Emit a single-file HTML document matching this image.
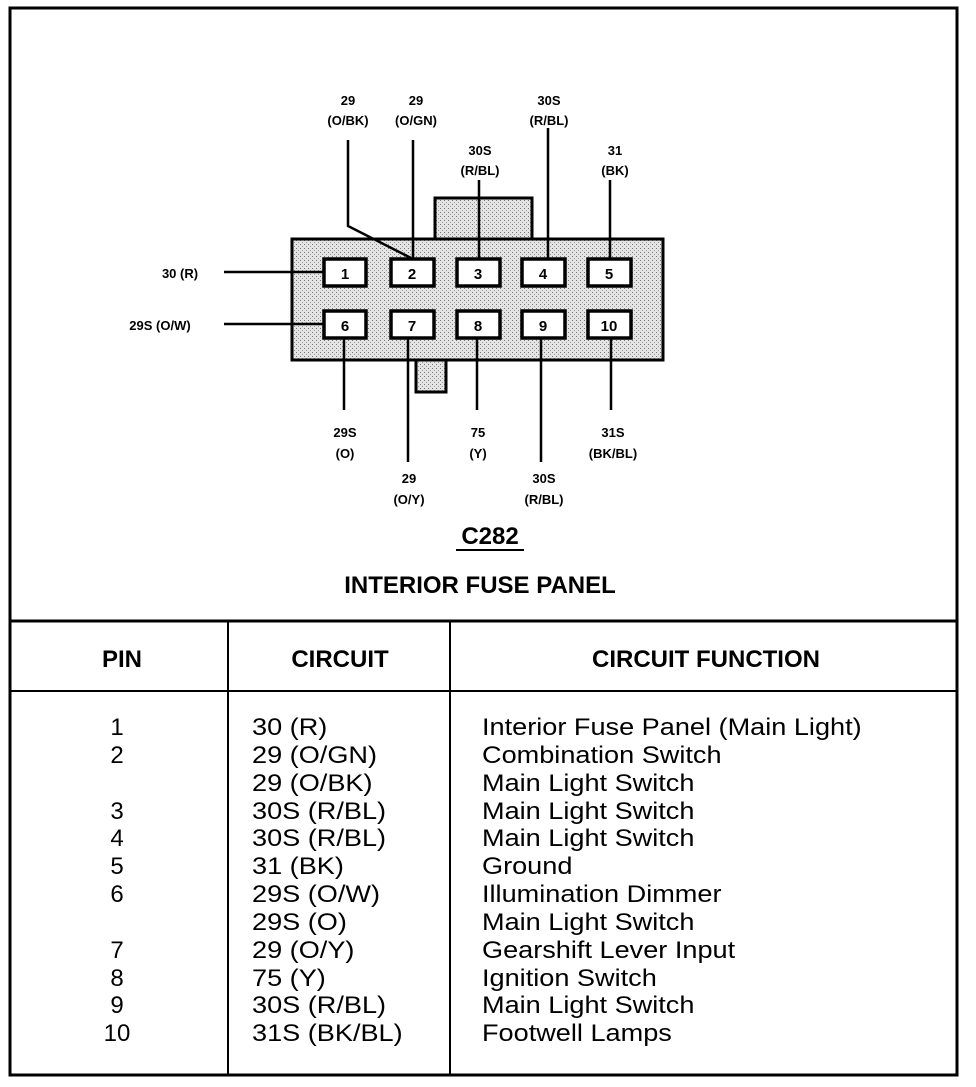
<!DOCTYPE html>
<html><head><style>
body{margin:0;background:#fff;}
svg text{font-family:"Liberation Sans",sans-serif;}
</style></head><body>
<svg width="976" height="1082" viewBox="0 0 976 1082" xmlns="http://www.w3.org/2000/svg">
<defs>
<pattern id="st" width="4" height="4" patternUnits="userSpaceOnUse">
<rect width="4" height="4" fill="#e4e4e4"/><rect x="0" y="0" width="1" height="1" fill="#777"/><rect x="2" y="2" width="1" height="1" fill="#999"/>
</pattern>
</defs>
<rect x="10" y="8" width="947" height="1067" fill="none" stroke="#000" stroke-width="3"/>
<line x1="10" y1="621" x2="957" y2="621" stroke="#000" stroke-width="3"/>
<line x1="10" y1="691" x2="957" y2="691" stroke="#000" stroke-width="2"/>
<line x1="228" y1="621" x2="228" y2="1075" stroke="#000" stroke-width="2"/>
<line x1="450" y1="621" x2="450" y2="1075" stroke="#000" stroke-width="2"/>

<rect x="435" y="198" width="97" height="41" fill="url(#st)" stroke="#000" stroke-width="3"/>
<rect x="416" y="358" width="30" height="34" fill="url(#st)" stroke="#000" stroke-width="3"/>
<rect x="292" y="239" width="371" height="121" fill="url(#st)" stroke="#000" stroke-width="3"/>

<g stroke="#000" stroke-width="2.5" fill="none">
<polyline points="348,140 348,226 411,258"/>
<line x1="413" y1="140" x2="413" y2="258"/>
<line x1="479" y1="180" x2="479" y2="258"/>
<line x1="548" y1="128" x2="548" y2="258"/>
<line x1="610" y1="180" x2="610" y2="258"/>
<line x1="224" y1="272" x2="323" y2="272"/>
<line x1="224" y1="324" x2="323" y2="324"/>
<line x1="344" y1="338" x2="344" y2="410"/>
<line x1="408" y1="338" x2="408" y2="462"/>
<line x1="477" y1="338" x2="477" y2="410"/>
<line x1="541" y1="338" x2="541" y2="462"/>
<line x1="611" y1="338" x2="611" y2="410"/>
</g>
<g stroke="#000" stroke-width="3.5" fill="#fff">
<rect x="324" y="259" width="42" height="27"/>
<rect x="391" y="259" width="43" height="27"/>
<rect x="457" y="259" width="43" height="27"/>
<rect x="522" y="259" width="43" height="27"/>
<rect x="588" y="259" width="43" height="27"/>
<rect x="324" y="311" width="42" height="27"/>
<rect x="391" y="311" width="43" height="27"/>
<rect x="457" y="311" width="43" height="27"/>
<rect x="522" y="311" width="43" height="27"/>
<rect x="588" y="311" width="43" height="27"/>
</g>
<g font-size="15" font-weight="bold" text-anchor="middle">
<text x="345" y="279">1</text><text x="412" y="279">2</text><text x="478" y="279">3</text><text x="543" y="279">4</text><text x="609" y="279">5</text>
<text x="345" y="331">6</text><text x="412" y="331">7</text><text x="478" y="331">8</text><text x="543" y="331">9</text><text x="609" y="331">10</text>
</g>
<g font-size="13" font-weight="bold" text-anchor="middle">
<text x="348" y="105">29</text><text x="348" y="125">(O/BK)</text>
<text x="416" y="105">29</text><text x="416" y="125">(O/GN)</text>
<text x="480" y="155">30S</text><text x="480" y="175">(R/BL)</text>
<text x="549" y="105">30S</text><text x="549" y="125">(R/BL)</text>
<text x="615" y="155">31</text><text x="615" y="175">(BK)</text>
<text x="180" y="278">30 (R)</text>
<text x="160" y="330">29S (O/W)</text>
<text x="345" y="437">29S</text><text x="345" y="458">(O)</text>
<text x="409" y="483">29</text><text x="409" y="504">(O/Y)</text>
<text x="478" y="437">75</text><text x="478" y="458">(Y)</text>
<text x="544" y="483">30S</text><text x="544" y="504">(R/BL)</text>
<text x="613" y="437">31S</text><text x="613" y="458">(BK/BL)</text>
</g>
<text x="490" y="544" font-size="24" font-weight="bold" text-anchor="middle">C282</text>
<line x1="456" y1="550" x2="524" y2="550" stroke="#000" stroke-width="2"/>
<text x="480" y="593" font-size="24" font-weight="bold" text-anchor="middle">INTERIOR FUSE PANEL</text>

<g font-size="24" font-weight="bold" text-anchor="middle">
<text x="122" y="667">PIN</text>
<text x="340" y="667">CIRCUIT</text>
<text x="706" y="667">CIRCUIT FUNCTION</text>
</g>
<g font-size="24">
<g text-anchor="middle">
<text x="117" y="735">1</text><text x="117" y="763">2</text>
<text x="117" y="819">3</text><text x="117" y="846">4</text><text x="117" y="874">5</text><text x="117" y="902">6</text>
<text x="117" y="958">7</text><text x="117" y="986">8</text><text x="117" y="1013">9</text><text x="117" y="1041">10</text>
</g>
<g transform="translate(252,0) scale(1.13,1)">
<text x="0" y="735">30 (R)</text><text x="0" y="763">29 (O/GN)</text><text x="0" y="791">29 (O/BK)</text>
<text x="0" y="819">30S (R/BL)</text><text x="0" y="846">30S (R/BL)</text><text x="0" y="874">31 (BK)</text>
<text x="0" y="902">29S (O/W)</text><text x="0" y="930">29S (O)</text><text x="0" y="958">29 (O/Y)</text>
<text x="0" y="986">75 (Y)</text><text x="0" y="1013">30S (R/BL)</text><text x="0" y="1041">31S (BK/BL)</text>
</g>
<g transform="translate(482,0) scale(1.13,1)">
<text x="0" y="735">Interior Fuse Panel (Main Light)</text>
<text x="0" y="763">Combination Switch</text>
<text x="0" y="791">Main Light Switch</text>
<text x="0" y="819">Main Light Switch</text>
<text x="0" y="846">Main Light Switch</text>
<text x="0" y="874">Ground</text>
<text x="0" y="902">Illumination Dimmer</text>
<text x="0" y="930">Main Light Switch</text>
<text x="0" y="958">Gearshift Lever Input</text>
<text x="0" y="986">Ignition Switch</text>
<text x="0" y="1013">Main Light Switch</text>
<text x="0" y="1041">Footwell Lamps</text>
</g>
</g>
</svg>
</body></html>
